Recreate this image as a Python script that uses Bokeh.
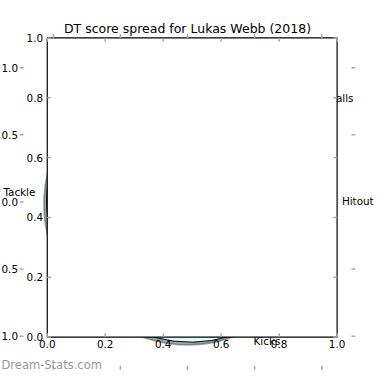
import math
from bokeh.plotting import figure
from bokeh.models import Range1d, ColumnDataSource
from bokeh.core.properties import value
from bokeh.embed import file_html
from bokeh.resources import INLINE

# ---------------- data ----------------
categories = ["Hitout", "Handballs", "Marks", "Tackle", "Goals", "Kicks"]
dt_points = [1, 82, 51, 84, 12, 129]
explode = [0.05, 0.05, 0.05, 0.05, 0.05, 0.05]
title_text = "DT score spread for Lukas Webb (2018)"
watermark_text = "Dream-Stats.com"
pie_ticks = [1.0, 0.5, 0.0, -0.5, -1.0]
pie_tick_labels = ["1.0", "0.5", "0.0", "0.5", "1.0"]   # as they appear (minus signs cut off)
box_ticks = [0.0, 0.2, 0.4, 0.6, 0.8, 1.0]
box_tick_labels = ["0.0", "0.2", "0.4", "0.6", "0.8", "1.0"]

# ---------------- layout ----------------
REF = 390.0          # reference canvas size
W = 374              # our canvas size
S = W / REF
CX, CY = 195.0, 210.0   # pie centre (reference px)
UNIT = 140.0            # reference px per pie unit
PX = 1.0 / UNIT
LIM = 1.25              # pie axes limits


def ux(px):
    return (px - CX) / UNIT


def uy(py):
    return (CY - py) / UNIT


FONT = value("DejaVu Sans")
fs_tick = f"{10.8 * S:.1f}px"
fs_title = f"{13.0 * S:.1f}px"
fs_mark = f"{12.0 * S:.1f}px"
TICK_C = "#aaaaaa"
TICK_L = 4 * PX

p = figure(width=W, height=W,
           x_range=Range1d(ux(0), ux(REF)), y_range=Range1d(uy(REF), uy(0)),
           x_axis_location=None, y_axis_location=None,
           output_backend="svg", toolbar_location=None, min_border=0)
p.grid.visible = False
p.outline_line_color = None
p.background_fill_color = "white"
p.border_fill_color = "white"

# ---------------- pie ----------------
total = float(sum(dt_points))
starts, ends, mids, cxs, cys = [], [], [], [], []
acc = 0.0
for v, e in zip(dt_points, explode):
    a0 = 2 * math.pi * acc / total
    acc += v
    a1 = 2 * math.pi * acc / total
    m = 0.5 * (a0 + a1)
    starts.append(a0)
    ends.append(a1)
    mids.append(m)
    cxs.append(e * math.cos(m))
    cys.append(e * math.sin(m))

face = (0.85, 0.99, 0.99)
face_hex = "#%02x%02x%02x" % tuple(int(round(c * 255)) for c in face)
shadow_hex = "#%02x%02x%02x" % tuple(int(round(0.3 * c * 255)) for c in face)

shadow_src = ColumnDataSource(dict(x=[c - 0.02 for c in cxs], y=[c - 0.02 for c in cys],
                                   s=starts, e=ends))
p.wedge(x="x", y="y", radius=1.0, start_angle="s", end_angle="e", source=shadow_src,
        fill_color=shadow_hex, fill_alpha=0.5, line_color=shadow_hex, line_alpha=0.5,
        line_width=1.5)

pie_src = ColumnDataSource(dict(x=cxs, y=cys, s=starts, e=ends, cat=categories, v=dt_points))
p.wedge(x="x", y="y", radius=1.0, start_angle="s", end_angle="e", source=pie_src,
        fill_color=face_hex, line_color="black", line_width=1)

lab = {"left": dict(x=[], y=[], t=[]), "right": dict(x=[], y=[], t=[])}
for c, cx, cy, m in zip(categories, cxs, cys, mids):
    xt = cx + 1.1 * math.cos(m)
    yt = cy + 1.1 * math.sin(m)
    side = "left" if xt > 0 else "right"
    lab[side]["x"].append(xt)
    lab[side]["y"].append(yt)
    lab[side]["t"].append(c)
for side, dx in (("left", 0), ("right", 2)):
    p.text(x="x", y="y", text="t", source=ColumnDataSource(lab[side]),
           text_align=side, text_baseline="middle", text_font=FONT, x_offset=dx,
           text_font_size=fs_tick, text_color="black")

# ---------------- overlapping default subplot (0..1) ----------------
bl, br = ux(0.125 * REF), ux(0.9 * REF)
bt, bb = uy(0.1 * REF), uy(0.9 * REF)


def bx(v):
    return bl + v * (br - bl)


def by(v):
    return bb + v * (bt - bb)


p.quad(left=bl, right=br, bottom=bb, top=bt, fill_color="white",
       line_color="black", line_width=1.2)

x0, y0, x1, y1 = [], [], [], []
for t in box_ticks:
    x0 += [bx(t), bx(t)]
    x1 += [bx(t), bx(t)]
    y0 += [bb, bt]
    y1 += [bb + TICK_L, bt - TICK_L]
    y0 += [by(t), by(t)]
    y1 += [by(t), by(t)]
    x0 += [bl, br]
    x1 += [bl + TICK_L, br - TICK_L]
p.segment(x0=x0, y0=y0, x1=x1, y1=y1, line_color=TICK_C, line_width=1.5)

p.text(x=[bl - 4.3 * PX] * len(box_ticks), y=[by(t) for t in box_ticks],
       text=box_tick_labels, text_align="right", text_baseline="middle",
       text_font=FONT, text_font_size=fs_tick, text_color="black")
p.text(x=[bx(t) for t in box_ticks], y=[bb - 7.5 * PX] * len(box_ticks),
       text=box_tick_labels, text_align="center", text_baseline="middle",
       text_font=FONT, text_font_size=fs_tick, text_color="black")

# ---------------- pie axes ticks (frame hidden) ----------------
x0, y0, x1, y1 = [], [], [], []
for t in pie_ticks:
    x0 += [t, t]
    x1 += [t, t]
    y0 += [-LIM, LIM]
    y1 += [-LIM + TICK_L, LIM - TICK_L]
    y0 += [t, t]
    y1 += [t, t]
    x0 += [-LIM, LIM]
    x1 += [-LIM + TICK_L, LIM - TICK_L]
p.segment(x0=x0, y0=y0, x1=x1, y1=y1, line_color=TICK_C, line_width=1.5)

p.text(x=[ux(0.0)] * len(pie_ticks), y=pie_ticks, text=pie_tick_labels, x_offset=1,
       text_align="left", text_baseline="middle", text_font=FONT,
       text_font_size=fs_tick, text_color="black")

# ---------------- title & watermark ----------------
p.text(x=[0.0], y=[uy(29.5)], text=[title_text], text_align="center",
       text_baseline="alphabetic", text_font=FONT, text_font_size=fs_title,
       text_color="black")
p.text(x=[ux(0.0)], y=[uy(380.0)], text=[watermark_text], text_align="left", x_offset=1,
       text_baseline="alphabetic", text_font=FONT, text_font_size=fs_mark,
       text_color="#999999")

open("out.html", "w").write(file_html(p, INLINE))
